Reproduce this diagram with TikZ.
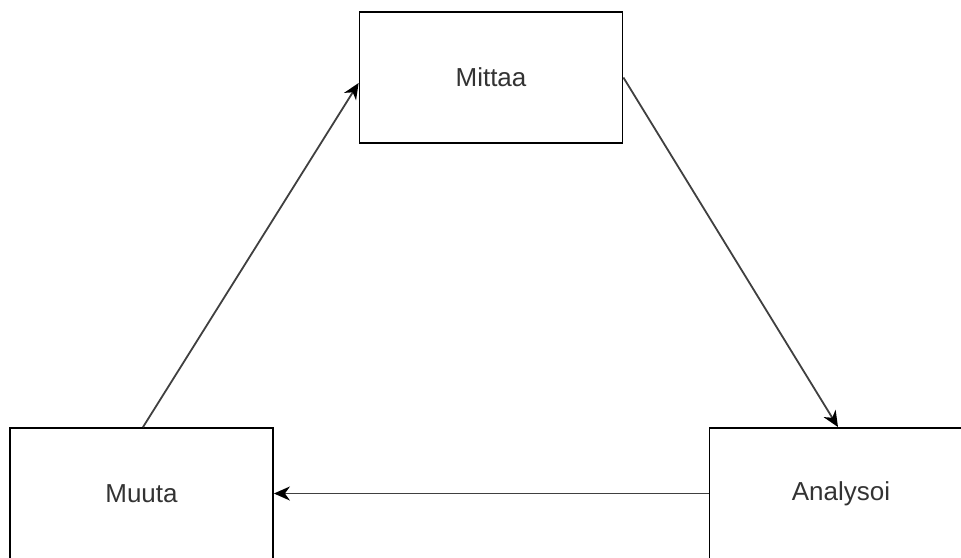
\documentclass[tikz,border=0pt]{standalone}
\usepackage{fontspec}
\setmainfont{Liberation Sans}
\usetikzlibrary{arrows.meta}
\begin{document}
\begin{tikzpicture}[x=1pt,y=-1pt,
  box/.style={draw=black, line width=1.8pt, fill=white, minimum width=263pt, minimum height=131pt, inner sep=0pt, text=black!80, font=\fontsize{26}{30}\selectfont},
  conn/.style={draw=black!75, line width=1.8pt, -{Stealth[length=16pt,width=14pt,inset=5pt,color=black]}}
]
\useasboundingbox (0,0) rectangle (961,557);
\clip (0,0) rectangle (961,557);
\node[box] (mittaa) at (491,77.5) {Mittaa};
\node[box] (muuta) at (141.5,493.5) {Muuta};
\node[box] (analysoi) at (841,493.5) {Analysoi};
\draw[conn] ([xshift=1.5pt]muuta.north) -- ([yshift=-5.5pt]mittaa.west);
\draw[conn] (mittaa.east) -- ([xshift=-3pt]analysoi.north);
\draw[conn] (analysoi.west) -- (muuta.east);
\end{tikzpicture}
\end{document}
